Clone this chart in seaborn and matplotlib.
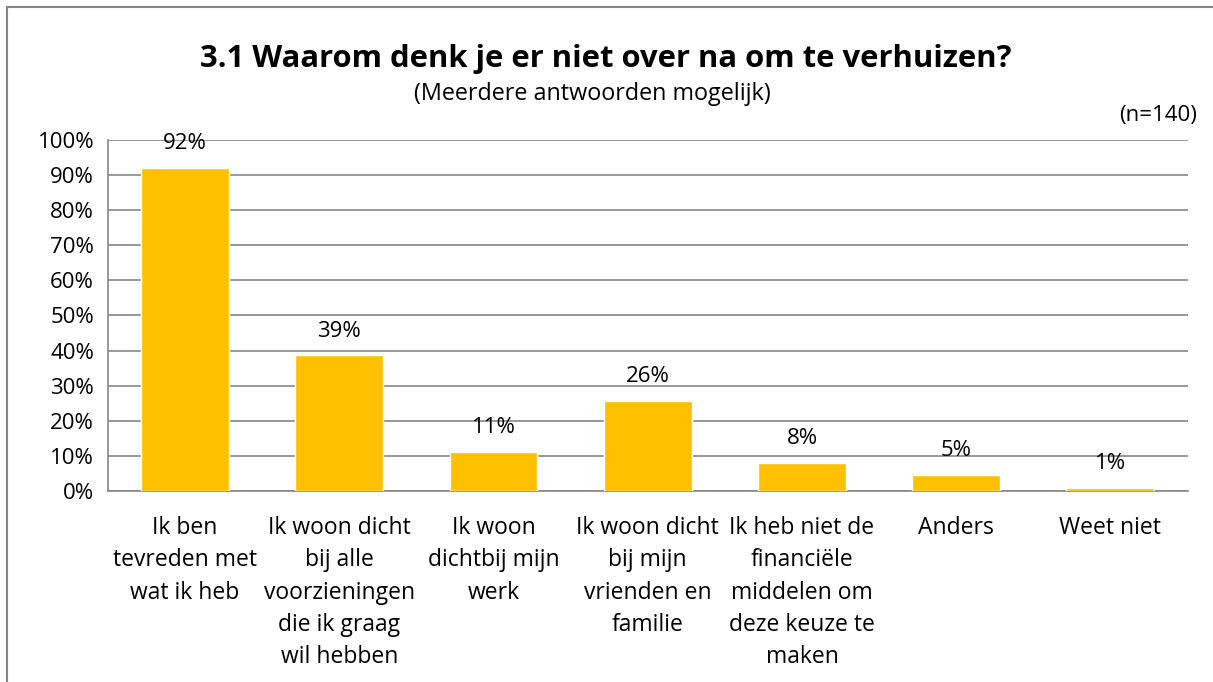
import matplotlib
matplotlib.use("Agg")
import matplotlib.pyplot as plt
import seaborn as sns
import numpy as np
import pandas as pd
from matplotlib.lines import Line2D
from matplotlib.ticker import FixedLocator, PercentFormatter

# ------------------------------------------------------------------
# data
# ------------------------------------------------------------------
categories = [
    "Ik ben\ntevreden met\nwat ik heb",
    "Ik woon dicht\nbij alle\nvoorzieningen\ndie ik graag\nwil hebben",
    "Ik woon\ndichtbij mijn\nwerk",
    "Ik woon dicht\nbij mijn\nvrienden en\nfamilie",
    "Ik heb niet de\nfinanciële\nmiddelen om\ndeze keuze te\nmaken",
    "Anders",
    "Weet niet",
]
values = [92.1, 38.6, 11.1, 25.7, 7.9, 4.6, 0.8]
labels = ["92%", "39%", "11%", "26%", "8%", "5%", "1%"]
yticks = list(range(0, 101, 10))

title = "3.1 Waarom denk je er niet over na om te verhuizen?"
subtitle = "(Meerdere antwoorden mogelijk)"
n_note = "(n=140)"

df = pd.DataFrame({"categorie": categories, "pct": values})

sns.set_theme(style="white")
plt.rcParams["font.family"] = ["Open Sans", "DejaVu Sans"]

bar_color = "#FFC000"
axis_gray = "#868686"

fig = plt.figure(figsize=(12.13, 6.82), dpi=100)
ax = fig.add_axes([0.089, 0.280, 0.890, 0.515])

sns.barplot(data=df, x="categorie", y="pct", color=bar_color,
            width=0.57, saturation=1, ax=ax, zorder=3)

ax.set_ylim(0, 100)
ax.set_xlim(-0.5, len(categories) - 0.5)
ax.yaxis.set_major_locator(FixedLocator(yticks))
ax.yaxis.set_major_formatter(PercentFormatter(decimals=0))
ax.grid(axis="y", color=axis_gray, linewidth=1.2)
ax.set_axisbelow(True)
ax.set_xlabel("")
ax.set_ylabel("")

for side in ["top", "right"]:
    ax.spines[side].set_visible(False)
for side in ["left", "bottom"]:
    ax.spines[side].set_color(axis_gray)
    ax.spines[side].set_linewidth(1.2)

ax.tick_params(axis="y", length=7, color=axis_gray, width=1.2,
               labelsize=16, labelcolor="black", pad=3)
ax.tick_params(axis="x", which="major", length=0, labelsize=16.5,
               labelcolor="black", pad=18)
ax.set_xticks(np.arange(-0.5, len(categories)), minor=True)
ax.tick_params(axis="x", which="minor", length=8, color=axis_gray, width=1.2)
for t in ax.get_xticklabels():
    t.set_multialignment("center")
    t.set_linespacing(1.46)

# data labels above bars
for i, (v, lab) in enumerate(zip(values, labels)):
    ax.annotate(lab, (i, v), xytext=(0, 10), textcoords="offset points",
                ha="center", va="bottom", fontsize=16, color="black")

fig.text(0.499, 0.913, title, ha="center", va="center",
         fontsize=22.3, fontweight="bold", color="black")
fig.text(0.4885, 0.862, subtitle, ha="center", va="center",
         fontsize=16.8, color="black")
fig.text(0.987, 0.831, n_note, ha="right", va="center",
         fontsize=16, color="black")

# outer chart border (only top and left edges are visible in the crop)
fig.lines.append(Line2D([0.006, 0.006, 1.0], [0.0, 0.99, 0.99],
                        transform=fig.transFigure, color=axis_gray,
                        linewidth=1.5))

fig.savefig("out.png", dpi=100)
